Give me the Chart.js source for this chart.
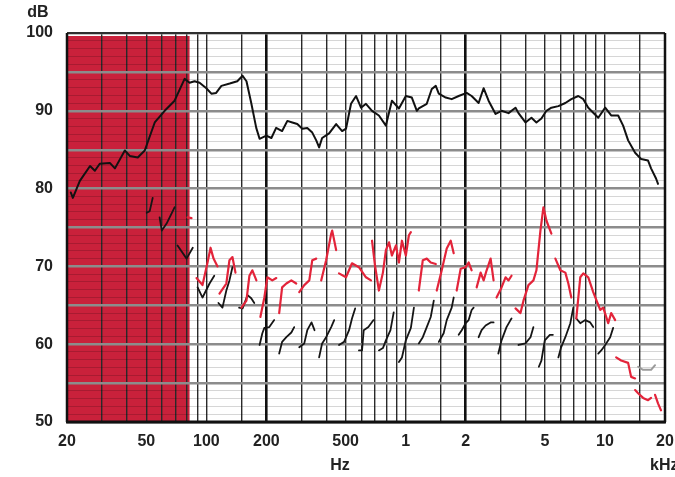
<!DOCTYPE html>
<html>
<head>
<meta charset="utf-8">
<script src="https://cdn.jsdelivr.net/npm/chart.js@4"></script>
<style>
  html, body { margin: 0; padding: 0; background: #fff; }
  #wrap { width: 675px; height: 477px; }
</style>
</head>
<body>
<div id="wrap"><canvas id="chart" width="675" height="477"></canvas></div>
<script>
// Основная кривая (чёрная, сплошная)
const mainHz = [20.9, 21.4, 23.2, 26.1, 27.6, 29.2, 32.8, 34.8, 39, 41.3, 45.3, 49.1, 55.1, 61.8, 69.3, 77.8,
  82.4, 87.3, 92.5, 100, 106, 112, 119, 131, 143, 152, 159, 168, 178, 185, 200, 212, 224, 240, 255, 270,
  286, 303, 321, 340, 356, 368, 381, 413, 448, 480, 502, 532, 564, 597, 632, 678, 734, 796, 853, 925,
  1002, 1074, 1138, 1164, 1276, 1352, 1416, 1466, 1589, 1702, 1845, 2023, 2143, 2323, 2460, 2606, 2825,
  3027, 3281, 3557, 3682, 3990, 4276, 4529, 4797, 5082, 5383, 5835, 6325, 6777, 7346, 7782, 8244, 9250,
  10024, 10741, 11643, 12330, 13064, 14160, 15170, 16444, 17025, 18032, 18450];
const mainDb = [79.5, 78.8, 81.0, 82.9, 82.3, 83.2, 83.3, 82.6, 84.9, 84.2, 84.0, 84.9, 88.5, 90.0, 91.3, 94.1,
  93.6, 93.8, 93.6, 92.9, 92.2, 92.3, 93.2, 93.5, 93.8, 94.5, 93.8, 91.0, 87.8, 86.4, 86.8, 86.5, 87.8, 87.4, 88.7, 88.5,
  88.3, 87.7, 87.8, 87.2, 86.2, 85.3, 86.5, 87.1, 88.3, 87.4, 87.7, 90.9, 91.9, 90.4, 90.9, 90.0, 89.4, 88.1, 91.3, 90.3,
  91.9, 91.7, 90.0, 90.3, 90.9, 92.8, 93.2, 92.2, 91.7, 91.5, 91.9, 92.3, 91.9, 91.0, 92.9, 91.3, 89.6,
  90.0, 89.7, 90.4, 89.7, 88.5, 89.1, 88.5, 89.0, 90.0, 90.4, 90.6, 91.0, 91.5, 91.9, 91.5, 90.4, 89.1,
  90.4, 89.4, 89.4, 88.1, 86.2, 84.6, 83.8, 83.6, 82.6, 81.3, 80.6];

// Красная кривая — отдельные куски
const redHz = [
  [80.5, 84.3],
  [89.3, 95.7, 101.4, 105, 108.7, 113.8],
  [116.4, 126, 130.6, 135.2, 140],
  [150, 158.9, 164.5, 170.2, 178.3],
  [186.7, 195.5, 202.3, 214.3, 224.4],
  [232, 240, 252, 267, 282.5],
  [292.5, 310, 328.5, 340, 356],
  [377, 399, 423, 428, 448],
  [463, 502, 538, 583, 632, 670],
  [678, 702, 734, 769, 796, 825, 853, 894, 925, 958, 1002, 1038, 1062],
  [1164, 1219, 1276, 1336, 1416],
  [1432, 1517, 1607, 1683, 1742],
  [1803, 1888, 2000, 2070, 2143],
  [2271, 2378, 2461, 2548, 2668, 2761],
  [2857, 3027, 3170, 3281, 3397],
  [3557, 3767, 3899, 4130, 4375, 4529, 4743, 4910, 5082, 5383],
  [5637, 5970, 6325, 6548, 6777],
  [7178, 7516, 7782, 8244, 8730, 9465, 9798, 10376, 10741, 11247],
  [11378, 12050, 13064, 13523, 14160],
  [14160, 14660, 15530, 16444, 17025],
  [17830, 18450, 19100]
];
const redDb = [
  [76.3, 76.2],
  [68.5, 67.6, 70.5, 72.4, 71.0, 70.0],
  [66.5, 67.8, 70.8, 71.2, 69.2],
  [64.7, 65.6, 68.8, 69.5, 68.2],
  [63.5, 66.0, 68.6, 68.2, 68.5],
  [64.0, 67.3, 67.8, 68.2, 67.8],
  [66.7, 67.6, 68.2, 70.8, 71.0],
  [68.2, 70.8, 74.2, 74.6, 72.1],
  [69.1, 68.6, 70.4, 69.9, 68.6, 68.2],
  [73.3, 70.1, 66.9, 69.2, 72.1, 73.1, 71.4, 72.7, 70.5, 73.3, 71.4, 74.0, 74.4],
  [66.9, 70.8, 71.0, 70.5, 70.3],
  [66.9, 69.5, 72.3, 73.3, 71.7],
  [66.9, 69.7, 69.9, 70.5, 69.5],
  [67.3, 69.2, 68.2, 69.5, 71.0, 68.2],
  [66.0, 67.3, 68.6, 68.2, 68.8],
  [64.6, 64.0, 65.6, 67.6, 68.2, 69.5, 74.6, 77.6, 75.9, 74.2],
  [71.0, 69.5, 69.2, 67.8, 66.0],
  [63.3, 68.6, 69.1, 68.6, 66.7, 64.4, 64.7, 62.7, 64.0, 63.1],
  [58.3, 57.9, 57.6, 55.8, 55.6],
  [54.1, 53.7, 53.1, 52.8, 53.1],
  [53.5, 52.4, 51.5]
];

// Нижняя чёрная кривая — отдельные куски
const lowHz = [
  [50.2, 52, 53.8],
  [58.3, 59.8, 63.2, 69.3],
  [71.7, 79.6, 85.5],
  [90.4, 95.7, 103.8, 109.6],
  [115, 120.5, 126, 130.6, 135.2],
  [146, 152, 161, 168, 174],
  [185, 191, 195.5, 207, 219],
  [232, 240, 252, 267, 276],
  [292.5, 310, 321, 337, 349],
  [368, 381, 399, 423, 438],
  [463, 491, 520, 538, 558],
  [583, 604, 616, 650, 690],
  [734, 769, 796, 839, 871],
  [925, 958, 1002, 1062, 1100],
  [1164, 1219, 1276, 1336, 1384],
  [1466, 1551, 1607, 1702, 1742],
  [1845, 1911, 2000, 2070, 2143, 2193],
  [2323, 2404, 2518, 2668, 2761],
  [2917, 3027, 3206, 3357, 3397],
  [3682, 3990, 4230, 4375],
  [4657, 4797, 4988, 5287, 5478],
  [5835, 6023, 6325, 6700, 6934],
  [7178, 7516, 7962, 8432, 8730],
  [9250, 9575, 10024, 10618, 10989]
];
const lowDb = [
  [76.9, 77.1, 78.8],
  [76.3, 74.6, 75.5, 77.6],
  [72.7, 71.0, 72.4],
  [67.3, 66.0, 67.8, 68.8],
  [65.3, 64.7, 66.9, 68.2, 69.9],
  [64.7, 64.6, 66.3, 65.9, 65.3],
  [59.9, 61.4, 62.1, 62.2, 63.1],
  [58.8, 60.3, 60.9, 61.5, 62.2],
  [59.6, 60.1, 61.8, 62.8, 61.8],
  [58.3, 60.1, 60.9, 62.2, 63.1],
  [59.9, 60.3, 61.8, 63.3, 64.6],
  [59.2, 59.2, 61.8, 62.2, 63.1],
  [59.2, 59.5, 60.5, 61.8, 64.1],
  [57.7, 58.3, 60.5, 62.1, 64.7],
  [60.1, 60.9, 62.2, 63.5, 65.6],
  [60.3, 61.4, 63.1, 64.7, 66.0],
  [61.2, 61.8, 62.7, 63.1, 64.4, 64.7],
  [60.9, 61.8, 62.4, 62.8, 62.8],
  [58.8, 60.5, 62.2, 63.1, 63.3],
  [59.9, 60.1, 60.9, 62.2],
  [57.1, 57.9, 60.5, 61.2, 61.2],
  [58.3, 59.6, 60.9, 62.7, 64.7],
  [63.3, 62.7, 63.1, 62.8, 62.2],
  [58.8, 59.2, 59.9, 60.9, 62.1]
];

// Серый кусок справа
const grayHz = [14660, 15530, 17025, 17830];
const grayDb = [57.1, 56.7, 56.7, 57.3];

// Закрашенная полоса низких частот
const shadeHz = [20, 82.4];

// Вертикальная сетка и подписи оси X
const gridHz = [20, 30, 40, 50, 60, 70, 80, 90, 100, 150, 200, 300, 400, 500, 600, 700, 800, 900,
  1000, 1500, 2000, 3000, 4000, 5000, 6000, 7000, 8000, 9000, 10000, 15000, 20000];
const xLabelHz = [20, 50, 100, 200, 500, 1000, 2000, 5000, 10000, 20000];
const xLabelText = ['20', '50', '100', '200', '500', '1', '2', '5', '10', '20'];

const FONT = 'Liberation Sans, Arial, Helvetica, sans-serif';

// Склеиваем куски в одну линию с разрывами
function toPoints(hz, db) {
    return hz.map((f, i) => ({ x: f, y: db[i] }));
}
function segmentsToPoints(hzSegs, dbSegs) {
    const pts = [];
    hzSegs.forEach((seg, i) => {
        if (i > 0) pts.push({ x: seg[0], y: null });
        seg.forEach((f, j) => pts.push({ x: f, y: dbSegs[i][j] }));
    });
    return pts;
}

// Фон, красная полоса, рамка и подписи
const decorPlugin = {
    id: 'decor',
    beforeDraw(chart) {
        const { ctx, chartArea, scales } = chart;
        ctx.save();
        ctx.fillStyle = '#ffffff';
        ctx.fillRect(0, 0, chart.width, chart.height);
        const x0 = scales.x.getPixelForValue(shadeHz[0]);
        const x1 = scales.x.getPixelForValue(shadeHz[1]);
        ctx.fillStyle = '#c9213b';
        ctx.fillRect(x0, chartArea.top + 3, x1 - x0, chartArea.bottom - chartArea.top - 3);
        ctx.restore();
    },
    beforeDatasetsDraw(chart) {
        const { ctx, chartArea } = chart;
        ctx.save();
        ctx.strokeStyle = '#111';
        ctx.lineWidth = 1.5;
        ctx.beginPath();
        ctx.moveTo(chartArea.left, chartArea.top);
        ctx.lineTo(chartArea.right, chartArea.top);
        ctx.stroke();
        ctx.lineWidth = 2.5;
        ctx.beginPath();
        ctx.moveTo(chartArea.left, chartArea.top);
        ctx.lineTo(chartArea.left, chartArea.bottom);
        ctx.moveTo(chartArea.right, chartArea.top);
        ctx.lineTo(chartArea.right, chartArea.bottom);
        ctx.stroke();
        ctx.lineWidth = 3;
        ctx.beginPath();
        ctx.moveTo(chartArea.left - 1, chartArea.bottom);
        ctx.lineTo(chartArea.right + 1, chartArea.bottom);
        ctx.stroke();
        ctx.restore();
    },
    afterDraw(chart) {
        const { ctx } = chart;
        ctx.save();
        ctx.fillStyle = '#222';
        ctx.font = 'bold 16px ' + FONT;
        ctx.textAlign = 'center';
        ctx.textBaseline = 'middle';
        ctx.fillText('dB', 38, 13);
        ctx.fillText('Hz', 340, 466);
        ctx.textAlign = 'left';
        ctx.fillText('kHz', 650, 466);
        ctx.restore();
    }
};

const ctx = document.getElementById('chart').getContext('2d');
const chart = new Chart(ctx, {
    type: 'line',
    data: {
        datasets: [
            {
                label: 'gray',
                data: toPoints(grayHz, grayDb),
                borderColor: '#9a9a9a',
                borderWidth: 2
            },
            {
                label: 'red',
                data: segmentsToPoints(redHz, redDb),
                borderColor: '#e3243a',
                borderWidth: 2.2
            },
            {
                label: 'low',
                data: segmentsToPoints(lowHz, lowDb),
                borderColor: '#151515',
                borderWidth: 1.8
            },
            {
                label: 'main',
                data: toPoints(mainHz, mainDb),
                borderColor: '#111',
                borderWidth: 2
            }
        ]
    },
    options: {
        responsive: false,
        animation: false,
        devicePixelRatio: 1,
        spanGaps: false,
        layout: { padding: { top: 33, right: 10, left: 0, bottom: 0 } },
        elements: {
            point: { radius: 0 },
            line: { tension: 0, fill: false, borderJoinStyle: 'round', borderCapStyle: 'round' }
        },
        plugins: {
            legend: { display: false },
            tooltip: { enabled: false }
        },
        scales: {
            x: {
                type: 'logarithmic',
                min: 20,
                max: 20000,
                afterBuildTicks(scale) {
                    scale.ticks = gridHz.map(v => ({ value: v }));
                },
                afterFit(scale) {
                    scale.height = 55;
                    scale.paddingLeft = 0;
                    scale.paddingRight = 0;
                },
                border: { display: false },
                grid: {
                    drawTicks: false,
                    color: (c) => {
                        const v = c.tick ? c.tick.value : 0;
                        return (v === 200 || v === 2000) ? '#111' : '#2a2a2a';
                    },
                    lineWidth: (c) => {
                        const v = c.tick ? c.tick.value : 0;
                        return (v === 200 || v === 2000) ? 2.6 : 1.4;
                    }
                },
                ticks: {
                    autoSkip: false,
                    maxRotation: 0,
                    padding: 10,
                    color: '#222',
                    font: { family: FONT, size: 16, weight: 'bold' },
                    callback: (value) => {
                        const i = xLabelHz.indexOf(value);
                        return i >= 0 ? xLabelText[i] : '';
                    }
                }
            },
            y: {
                type: 'linear',
                min: 50,
                max: 100,
                afterFit(scale) {
                    scale.width = 67;
                    scale.paddingTop = 0;
                    scale.paddingBottom = 0;
                },
                border: { display: false },
                grid: {
                    drawTicks: false,
                    color: (c) => (c.tick && c.tick.value % 5 === 0) ? '#8c8c8c' : 'rgba(0,0,0,0.16)',
                    lineWidth: (c) => (c.tick && c.tick.value % 5 === 0) ? 2.4 : 1
                },
                ticks: {
                    stepSize: 1,
                    autoSkip: false,
                    padding: 14,
                    color: '#222',
                    font: { family: FONT, size: 16, weight: 'bold' },
                    callback: (v) => (v % 10 === 0 ? String(v) : '')
                }
            }
        }
    },
    plugins: [decorPlugin]
});
</script>
</body>
</html>
